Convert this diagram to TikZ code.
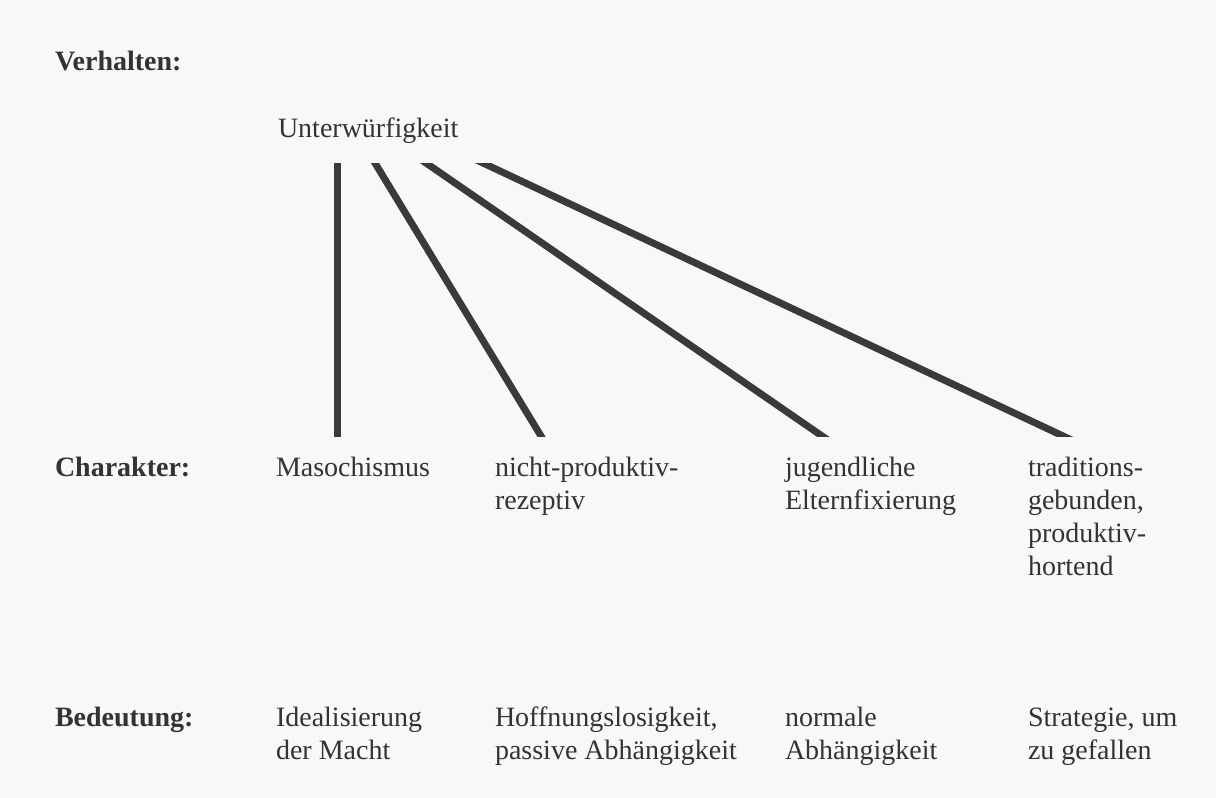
\documentclass[tikz,border=0pt]{standalone}
\usepackage{fontspec}
\setmainfont{Liberation Serif}
\definecolor{ink}{HTML}{333333}
\definecolor{ink2}{HTML}{3A3A3A}
\definecolor{paper}{HTML}{F8F8F6}
\begin{document}
\begin{tikzpicture}[x=0.5pt,y=-0.5pt,
  lbl/.style={anchor=base west, inner sep=0pt, outer sep=0pt, align=left, text=ink,
    font=\fontsize{14}{16.5}\selectfont},
  head/.style={lbl, font=\fontsize{14}{16.5}\selectfont\bfseries},
  link/.style={line width=3.5pt, draw=ink2, shorten <=-8pt, shorten >=-8pt}]
\fill[paper] (0,0) rectangle (1216,798);
\useasboundingbox (0,0) rectangle (1216,798);
% row headings
\node[head] (hv) at (55,70) {Verhalten:};
\node[head] (hc) at (55,476) {Charakter:};
\node[head] (hb) at (55,726) {Bedeutung:};
% behaviour
\node[lbl] (u) at (278,137) {Unterwürfigkeit};
% character (anchor = baseline of last line; line pitch 33)
\node[lbl] (c1) at (276,476) {Masochismus};
\node[lbl] (c2) at (495,509) {nicht-produktiv-\\rezeptiv};
\node[lbl] (c3) at (785,509) {jugendliche\\Elternfixierung};
\node[lbl] (c4) at (1028,575) {traditions-\\gebunden,\\produktiv-\\hortend};
% meaning
\node[lbl] (b1) at (276,759) {Idealisierung\\der Macht};
\node[lbl] (b2) at (495,759) {Hoffnungslosigkeit,\\passive Abhängigkeit};
\node[lbl] (b3) at (785,759) {normale\\Abhängigkeit};
\node[lbl] (b4) at (1028,759) {Strategie, um\\zu gefallen};
% connector ends
\coordinate (t1) at (337,163); \coordinate (e1) at (337,436);
\coordinate (t2) at (375,163); \coordinate (e2) at (541,436);
\coordinate (t3) at (426,163); \coordinate (e3) at (822,436);
\coordinate (t4) at (483,163); \coordinate (e4) at (1063,436);
\begin{scope}
\clip (0,163) rectangle (1216,436);
\draw[link] (t1) -- (e1);
\draw[link] (t2) -- (e2);
\draw[link] (t3) -- (e3);
\draw[link] (t4) -- (e4);
\end{scope}
\end{tikzpicture}
\end{document}
